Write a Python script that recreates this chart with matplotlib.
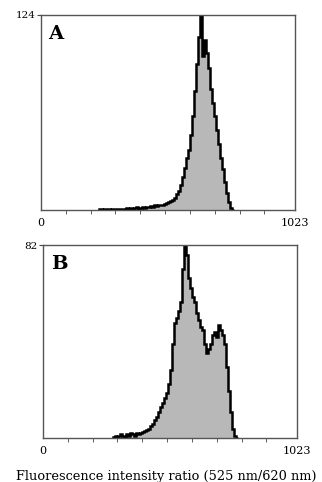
import numpy as np
import matplotlib.pyplot as plt

plt.rcParams['font.family'] = ['DejaVu Serif']

# Histogram data: counts in 8-channel bins (channel range 0-1023)
bin_width = 8

# Panel A, first bin starts at channel 232
a_start = 232
a_counts = [0.5, 1, 0, 1, 0.5, 1, 0, 1, 1, 0.5, 1, 1, 0.5, 1, 1.5, 1,
            1.5, 1, 1.5, 2, 1, 1.5, 2, 1.5, 2, 2, 2.5, 2, 3, 2.5, 3, 3.5,
            3, 4, 4.5, 5, 6, 6.5, 8, 10, 12, 16, 21, 27, 33, 38, 48, 60,
            76, 93, 110, 124, 98, 108, 100, 90, 77, 68, 60, 51, 42, 33, 26, 18,
            11, 5, 1.5, 0]

# Panel B, first bin starts at channel 280
b_start = 280
b_counts = [0.5, 1, 0.5, 1, 1.5, 1, 0.5, 1.5, 1, 2, 1.5, 1, 2, 1.5, 2, 2.5,
            3, 3.5, 4, 5, 6, 7.5, 9, 11, 13, 15, 17, 19, 23, 29, 40, 49,
            51, 54, 58, 72, 82, 78, 68, 64, 60, 58, 53, 50, 47, 46, 40, 36,
            38, 40, 44, 45, 43, 48, 46, 44, 40, 30, 20, 11, 4, 1, 0]

panels = [("A", a_start, a_counts, 124, [0.127, 0.564, 0.789, 0.405]),
          ("B", b_start, b_counts, 82, [0.1335, 0.0913, 0.789, 0.400])]

fig = plt.figure(figsize=(3.22, 4.82), dpi=100)

for letter, start, counts, ymax, rect in panels:
    ax = fig.add_axes(rect)
    edges = start + bin_width * np.arange(len(counts) + 1)
    ax.stairs(counts, edges, fill=True, color="#b8b8b8")
    ax.stairs(counts, edges, color="black", linewidth=1.8)

    ax.set_xlim(0, 1023)
    ax.set_ylim(0, ymax)
    ax.set_xticks([0, 1023])
    ax.set_xticklabels(["0", "1023"])
    ax.set_xticks(np.arange(100, 1000, 100), minor=True)
    ax.set_yticks([ymax])
    ax.tick_params(axis="x", which="major", length=0, pad=6, labelsize=8)
    ax.tick_params(axis="x", which="minor", length=3, direction="out", color="#444")
    ax.tick_params(axis="y", length=3, pad=1, labelsize=7.5, color="#444")
    for s in ax.spines.values():
        s.set_color("#555555")
        s.set_linewidth(1.0)
    ax.text(0.03, 0.95, letter, transform=ax.transAxes, fontsize=14,
            fontweight="bold", va="top", ha="left")

fig.text(0.515, 0.011, "Fluorescence intensity ratio (525 nm/620 nm)",
         ha="center", va="center", fontsize=9.3)

fig.savefig("out.png", dpi=100)
